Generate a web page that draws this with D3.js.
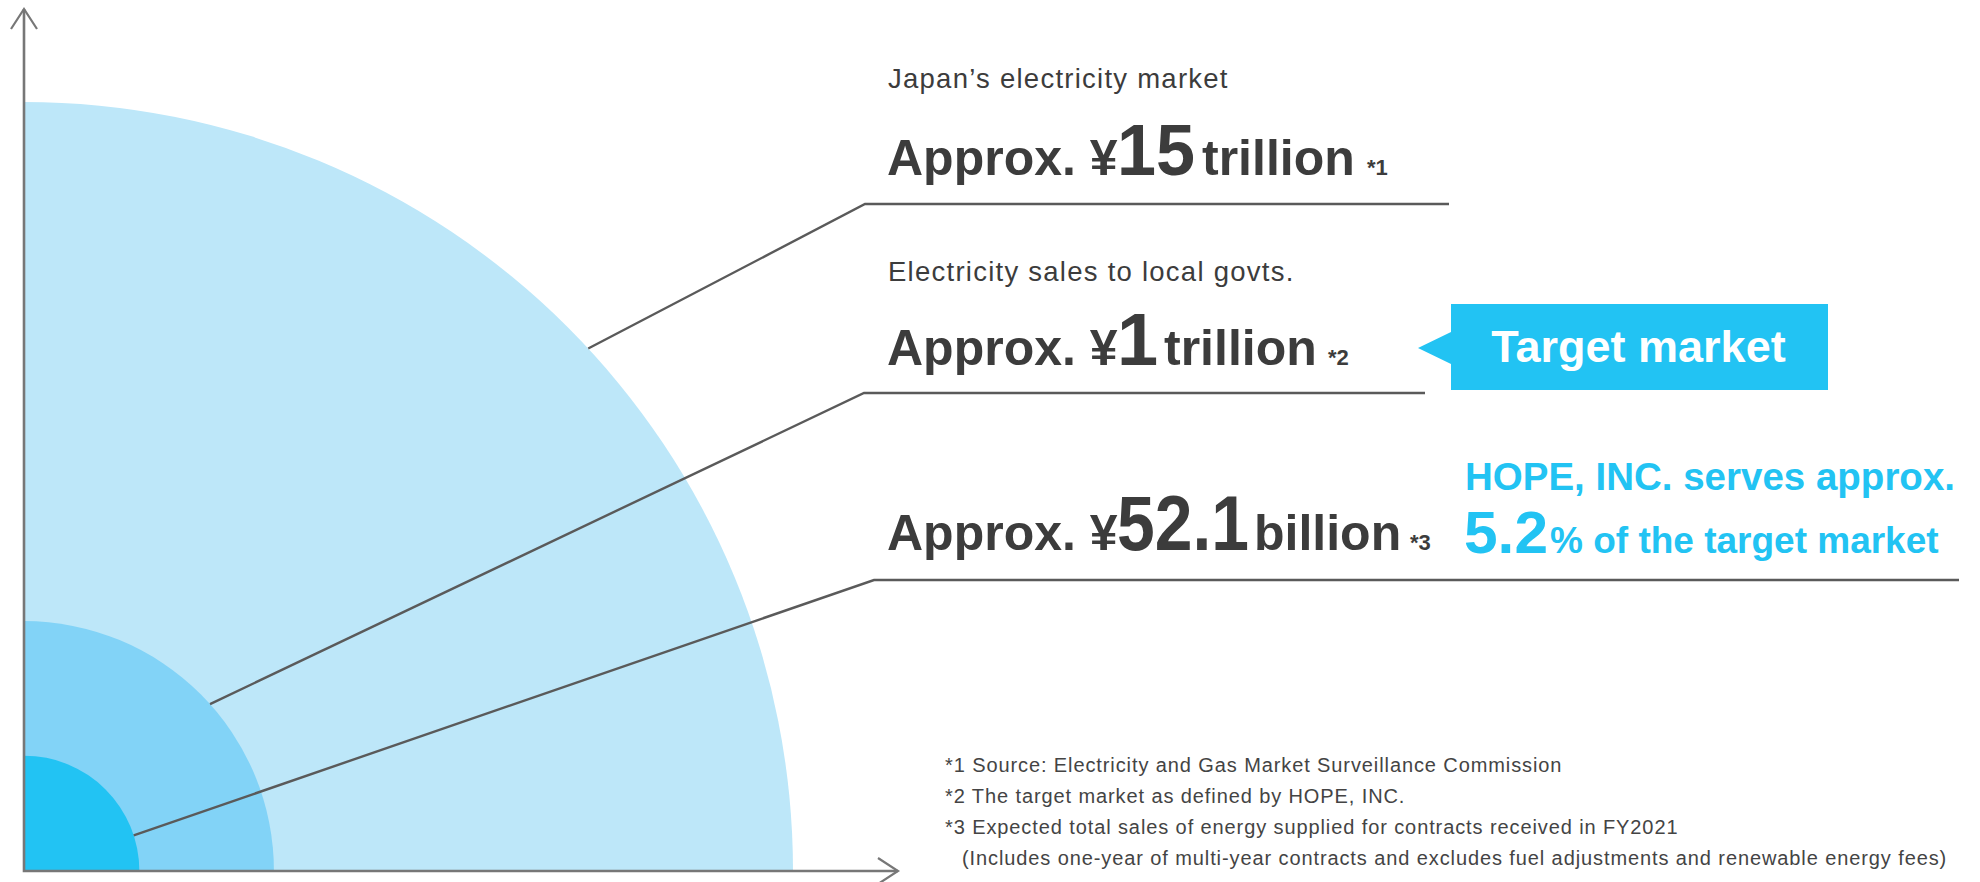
<!DOCTYPE html>
<html>
<head>
<meta charset="utf-8">
<script src="https://cdn.jsdelivr.net/npm/d3@7"></script>
<style>
  body { margin: 0; background: #fff; }
  svg { display: block; font-family: "Liberation Sans", Arial, sans-serif; }
</style>
</head>
<body>
<div id="chart"></div>
<script>
// values
var markets = ["Japan\u2019s electricity market", "Electricity sales to local govts.", ""];
var amounts = ["15", "1", "52.1"];
var units = ["trillion", "trillion", "billion"];
var notes = ["*1", "*2", "*3"];
// relative radius of each quarter circle (outer = 1)
var circleSize = [1, 0.325, 0.15];
var targetLabel = "Target market";
var shareLine1 = "HOPE, INC. serves approx.";
var shareValue = "5.2";
var shareLine2 = "% of the target market";
var footnotes = [
  "*1 Source: Electricity and Gas Market Surveillance Commission",
  "*2 The target market as defined by HOPE, INC.",
  "*3 Expected total sales of energy supplied for contracts received in FY2021",
  "(Includes one-year of multi-year contracts and excludes fuel adjustments and renewable energy fees)"
];

// layout
var svg_dx = 1980,
  svg_dy = 882,
  origin = { x: 24, y: 871 },
  maxR = 769,
  dark = "#3c3c3c",
  cyan = "#22c3f3",
  circleColors = ["#bde7f9", "#82d3f7", "#22c3f3"];

// where each row sits
var rowBase = [175, 365, 550],
  labelBase = [88, 281, null],
  underlineY = [204, 393, 580],
  cornerX = [865, 864, 874],
  endX = [1449, 1425, 1959],
  anchorAngle = [42.8, 41.9, 18],
  unitX = [1202, 1164, 1254],
  noteX = [1367, 1328, 1410],
  numLen = [78, null, 132],
  numSize = [73, 74, 77];

var r = d3.scaleLinear().domain([0, 1]).range([0, maxR]);

var svg = d3.select("#chart")
  .append("svg")
  .attr("width", svg_dx)
  .attr("height", svg_dy);

// quarter circles, biggest first
var arc = d3.arc()
  .innerRadius(0)
  .outerRadius(function(d) { return r(d); })
  .startAngle(0)
  .endAngle(Math.PI / 2);

svg.append("g")
  .attr("transform", "translate(" + origin.x + "," + origin.y + ")")
  .selectAll("path")
  .data(circleSize)
  .enter()
  .append("path")
  .attr("d", arc)
  .attr("fill", function(d, i) { return circleColors[i]; });

// axes with open arrow heads
var axis = svg.append("g")
  .attr("fill", "none")
  .attr("stroke", "#777")
  .attr("stroke-width", 2.6);

axis.append("polyline")
  .attr("points", [[origin.x, 9], [origin.x, origin.y], [898, origin.y]].join(" "));
axis.append("polyline")
  .attr("points", [[origin.x - 13, 29], [origin.x, 9], [origin.x + 13, 29]].join(" "))
  .attr("stroke-width", 2.2);
axis.append("polyline")
  .attr("points", [[878, origin.y - 13], [898, origin.y], [878, origin.y + 13]].join(" "))
  .attr("stroke-width", 2.2);

// leader lines from each circle edge to its label
var leader = d3.line();
svg.append("g")
  .selectAll("path")
  .data(circleSize)
  .enter()
  .append("path")
  .attr("fill", "none")
  .attr("stroke", "#5a5a5a")
  .attr("stroke-width", 2.4)
  .attr("d", function(d, i) {
    var a = anchorAngle[i] * Math.PI / 180;
    return leader([
      [origin.x + r(d) * Math.cos(a), origin.y - r(d) * Math.sin(a)],
      [cornerX[i], underlineY[i]],
      [endX[i], underlineY[i]]
    ]);
  });

// labels
var labels = svg.append("g").attr("fill", dark);

markets.forEach(function(m, i) {
  if (m) {
    labels.append("text")
      .attr("x", 888)
      .attr("y", labelBase[i])
      .attr("font-size", 27.5)
      .attr("letter-spacing", 1.25)
      .text(m);
  }
  labels.append("text")
    .attr("x", 887)
    .attr("y", rowBase[i])
    .attr("font-size", 50)
    .attr("font-weight", "bold")
    .text("Approx. \u00a5");
  var num = labels.append("text")
    .attr("x", 1117)
    .attr("y", rowBase[i])
    .attr("font-size", numSize[i])
    .attr("font-weight", "bold")
    .text(amounts[i]);
  if (numLen[i]) num.attr("textLength", numLen[i]).attr("lengthAdjust", "spacingAndGlyphs");
  labels.append("text")
    .attr("x", unitX[i])
    .attr("y", rowBase[i])
    .attr("font-size", 50)
    .attr("font-weight", "bold")
    .text(units[i]);
  labels.append("text")
    .attr("x", noteX[i])
    .attr("y", rowBase[i])
    .attr("font-size", 22)
    .attr("font-weight", "bold")
    .text(notes[i]);
});

// target market tag
var tag = { x: 1451, y: 304, w: 377, h: 86 };
svg.append("path")
  .attr("fill", cyan)
  .attr("d", "M" + tag.x + "," + tag.y + "H" + (tag.x + tag.w) + "V" + (tag.y + tag.h) +
    "H" + tag.x + "V" + (tag.y + 60) + "L" + (tag.x - 33) + "," + (tag.y + 44) +
    "L" + tag.x + "," + (tag.y + 28) + "Z");
svg.append("text")
  .attr("x", tag.x + tag.w / 2 - 1)
  .attr("y", 362)
  .attr("text-anchor", "middle")
  .attr("fill", "#fff")
  .attr("font-size", 45)
  .attr("font-weight", "bold")
  .text(targetLabel);

// share of target market
var share = svg.append("g").attr("fill", cyan).attr("font-weight", "bold");
share.append("text")
  .attr("x", 1465)
  .attr("y", 490)
  .attr("font-size", 38.5)
  .text(shareLine1);
share.append("text")
  .attr("x", 1464)
  .attr("y", 553)
  .attr("font-size", 60)
  .attr("textLength", 84)
  .attr("lengthAdjust", "spacingAndGlyphs")
  .text(shareValue);
share.append("text")
  .attr("x", 1550)
  .attr("y", 553)
  .attr("font-size", 37)
  .text(shareLine2);

// footnotes
svg.append("g")
  .attr("fill", "#444")
  .attr("font-size", 20)
  .attr("letter-spacing", 0.9)
  .selectAll("text")
  .data(footnotes)
  .enter()
  .append("text")
  .attr("x", function(d, i) { return i === 3 ? 962 : 945; })
  .attr("y", function(d, i) { return 772 + i * 31; })
  .text(function(d) { return d; });
</script>
</body>
</html>
